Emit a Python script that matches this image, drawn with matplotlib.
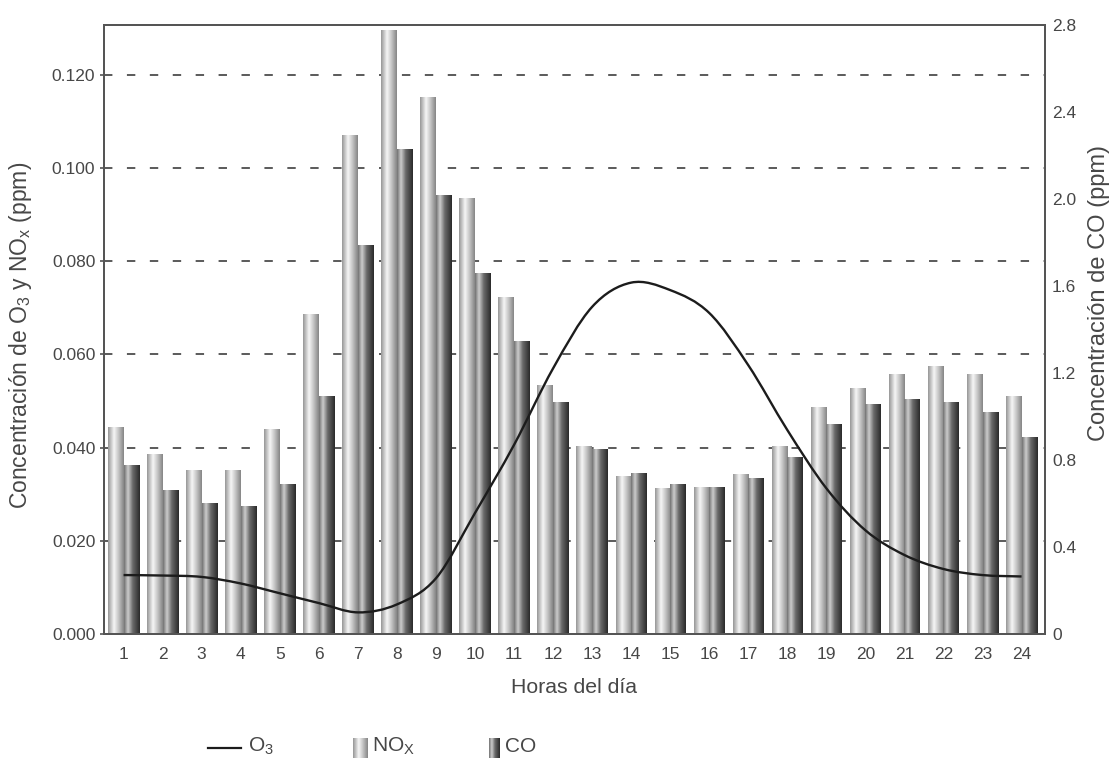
import matplotlib
matplotlib.use("Agg")
import matplotlib.pyplot as plt
import numpy as np
from matplotlib.colors import LinearSegmentedColormap
from matplotlib.lines import Line2D
from matplotlib.path import Path
from matplotlib.patches import PathPatch

plt.rcParams["font.family"] = ["Liberation Sans", "DejaVu Sans"]
plt.rcParams["mathtext.fontset"] = "custom"
plt.rcParams["mathtext.rm"] = "Liberation Sans"

TEXT = "#474747"
SPINE = "#555555"

hours = list(range(1, 25))
nox_ppm = [0.0442, 0.0384, 0.0350, 0.0350, 0.0438, 0.0685, 0.1069, 0.1294,
           0.1150, 0.0933, 0.0721, 0.0532, 0.0401, 0.0337, 0.0313, 0.0315,
           0.0343, 0.0402, 0.0485, 0.0526, 0.0556, 0.0573, 0.0556, 0.0509]
co_ppm = [0.773, 0.658, 0.599, 0.585, 0.686, 1.090, 1.784, 2.224,
          2.013, 1.655, 1.344, 1.062, 0.847, 0.736, 0.686, 0.672,
          0.713, 0.810, 0.961, 1.053, 1.076, 1.062, 1.017, 0.902]
o3_ppm = [0.0127, 0.0126, 0.0123, 0.0109, 0.0088, 0.0067, 0.0047, 0.0064,
          0.0120, 0.0260, 0.0406, 0.0570, 0.0702, 0.0754, 0.0738, 0.0689,
          0.0577, 0.0438, 0.0313, 0.0223, 0.0170, 0.0140, 0.0127, 0.0124]
left_ticks = [0.000, 0.020, 0.040, 0.060, 0.080, 0.100, 0.120]
right_ticks = [0, 0.4, 0.8, 1.2, 1.6, 2.0, 2.4, 2.8]

nox_cmap = LinearSegmentedColormap.from_list(
    "nox", [(0, "#979797"), (0.38, "#f6f6f6"), (0.6, "#d0d0d0"), (1, "#868686")])
co_cmap = LinearSegmentedColormap.from_list(
    "co", [(0, "#727272"), (0.25, "#cdcdcd"), (0.55, "#6a6a6a"), (1, "#2a2a2a")])
grad = np.linspace(0, 1, 64).reshape(1, -1)


def gradient_bars(ax, bars, cmap, z):
    for bar in bars:
        x0, w, h = bar.get_x(), bar.get_width(), bar.get_height()
        ax.imshow(grad, extent=[x0, x0 + w, 0, h], aspect="auto",
                  cmap=cmap, zorder=z, interpolation="bilinear")


def smooth_path(xs, ys):
    # Catmull-Rom through the points, drawn as cubic Bezier segments
    pts = np.column_stack([xs, ys])
    ext = np.vstack([pts[0], pts, pts[-1]])
    verts = [pts[0]]
    codes = [Path.MOVETO]
    for i in range(len(pts) - 1):
        p0, p1, p2, p3 = ext[i], ext[i + 1], ext[i + 2], ext[i + 3]
        verts += [p1 + (p2 - p0) / 6, p2 - (p3 - p1) / 6, p2]
        codes += [Path.CURVE4] * 3
    return Path(verts, codes)


fig = plt.figure(figsize=(11.11, 7.58), dpi=100)
ax = fig.add_axes([0.0933, 0.1632, 0.8473, 0.8042])
ax2 = ax.twinx()

x = np.array(hours, dtype=float)
width = 0.4

ax.set_axisbelow(True)
ax.grid(axis="y", color="#2e2e2e", linestyle=(0, (5.5, 9.5)), linewidth=1.1)
nox_bars = ax.bar(x - width / 2, nox_ppm, width=width, color="none", linewidth=0)
gradient_bars(ax, nox_bars, nox_cmap, 2)

co_bars = ax2.bar(x + width / 2, co_ppm, width=width, color="none", linewidth=0)
gradient_bars(ax2, co_bars, co_cmap, 2)
ax2.add_patch(PathPatch(smooth_path(x, o3_ppm), fill=False, edgecolor="#1c1c1c",
                        linewidth=1.7, zorder=4, transform=ax.transData))

ax.set_xlim(0.49, 24.6)
ax.set_ylim(0, 0.1307)
ax2.set_ylim(0, 2.8)
ax.set_xticks(hours)
ax.set_xticklabels([str(h) for h in hours])
ax.set_yticks(left_ticks)
ax.set_yticklabels([f"{v:.3f}" for v in left_ticks])
ax2.set_yticks(right_ticks)
ax2.set_yticklabels(["0"] + [f"{v:.1f}" for v in right_ticks[1:]])

ax.tick_params(axis="x", length=0, pad=9, labelsize=12.5, labelcolor=TEXT)
ax.tick_params(axis="y", length=3, width=1.2, color=SPINE, pad=3,
               labelsize=12.5, labelcolor=TEXT)
ax2.tick_params(axis="y", length=0, pad=5, labelsize=12.5, labelcolor=TEXT)
for a in (ax, ax2):
    for s in a.spines.values():
        s.set_color(SPINE)
        s.set_linewidth(1.4)

ax.set_xlabel("Horas del día", fontsize=15.3, color=TEXT, labelpad=12)
ax.set_ylabel(r"Concentración de O$_\mathregular{3}$ y NO$_\mathregular{x}$ (ppm)",
              fontsize=16.5, color=TEXT)
ax.yaxis.set_label_coords(-0.074, 0.49)
ax2.set_ylabel("Concentración de CO (ppm)", fontsize=17, color=TEXT)
ax2.yaxis.set_label_coords(1.046, 0.56)

# legend drawn in pixel coordinates below the chart
leg = fig.add_axes([0, 0, 1, 1], zorder=-1)
leg.axis("off")
leg.add_line(Line2D([208, 241], [748, 748], color="#1c1c1c", linewidth=1.6))
leg.text(248, 746, r"O$_\mathregular{3}$", fontsize=15, color=TEXT, va="center")
leg.imshow(grad, extent=[353, 368, 758, 738], aspect="auto", cmap=nox_cmap)
leg.text(372, 746, r"NO$_\mathregular{X}$", fontsize=15, color=TEXT, va="center")
leg.imshow(grad, extent=[489, 500, 758, 738], aspect="auto", cmap=co_cmap)
leg.text(505, 746, "CO", fontsize=15, color=TEXT, va="center")
leg.set_xlim(0, 1111)
leg.set_ylim(758, 0)

fig.savefig("out.png", dpi=100)
